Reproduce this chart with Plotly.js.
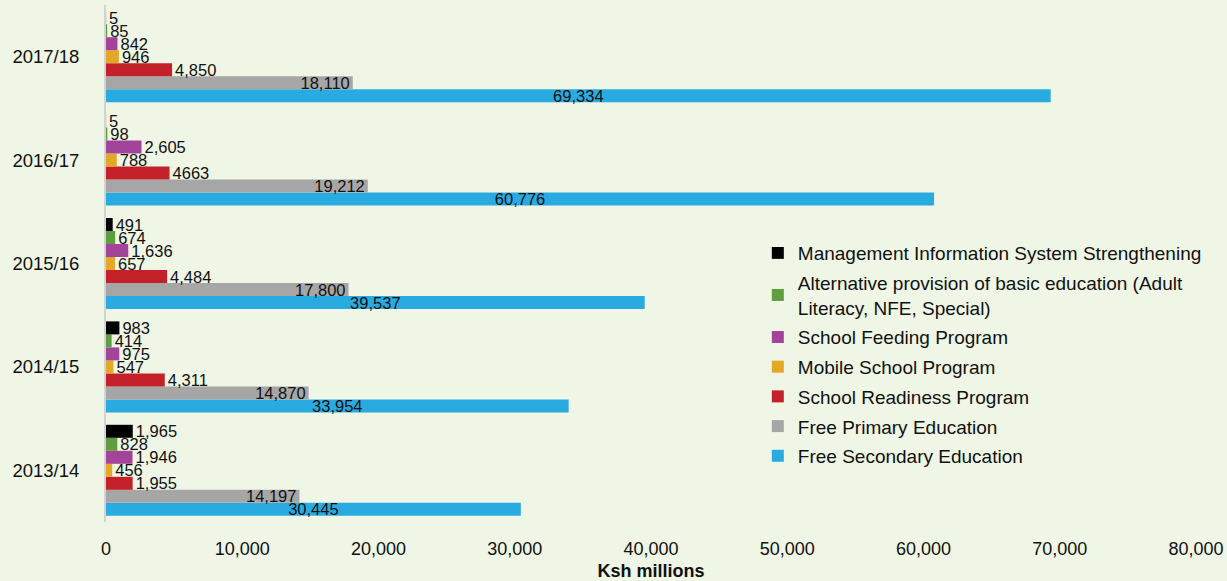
<!DOCTYPE html>
<html>
<head>
<meta charset="utf-8">
<script src="https://cdn.plot.ly/plotly-3.0.1.min.js"></script>
<style>html,body{margin:0;padding:0;background:#eff6e5;}#chart{width:1227px;height:581px;}</style>
</head>
<body>
<div id="chart"></div>
<script>
// Categories (bottom to top as drawn by Plotly)
const years = ['2013/14', '2014/15', '2015/16', '2016/17', '2017/18'];

// Series values, Ksh millions, in the same order as years
const freeSecondary = [30445, 33954, 39537, 60776, 69334];
const freePrimary   = [14197, 14870, 17800, 19212, 18110];
const schoolReadiness = [1955, 4311, 4484, 4663, 4850];
const mobileSchool  = [456, 547, 657, 788, 946];
const schoolFeeding = [1946, 975, 1636, 2605, 842];
const altProvision  = [828, 414, 674, 98, 85];
const misStrength   = [1965, 983, 491, 5, 5];

// Label as printed in the source (one value printed without a thousands separator)
const readinessLabels = ['1,955', '4,311', '4,484', '4663', '4,850'];

const seriesNames = [
  'Free Secondary Education',
  'Free Primary Education',
  'School Readiness Program',
  'Mobile School Program',
  'School Feeding Program',
  'Alternative provision of basic education (Adult<br>Literacy, NFE, Special)',
  'Management Information System Strengthening'
];
const seriesColors = ['#29abe2', '#a6a6a6', '#c4202a', '#e3a827', '#a3449a', '#5f9e3f', '#000000'];

const fmt = v => v.toLocaleString('en-US');

const seriesValues = [freeSecondary, freePrimary, schoolReadiness, mobileSchool, schoolFeeding, altProvision, misStrength];
const seriesText = [
  freeSecondary.map(fmt),
  freePrimary.map(fmt),
  readinessLabels,
  mobileSchool.map(fmt),
  schoolFeeding.map(fmt),
  altProvision.map(fmt),
  misStrength.map(fmt)
];
const textPos = ['inside', 'inside', 'outside', 'outside', 'outside', 'outside', 'outside'];
const textAnchor = ['middle', 'end', 'end', 'end', 'end', 'end', 'end'];

const traces = seriesValues.map((vals, i) => ({
  type: 'bar',
  orientation: 'h',
  y: years,
  x: vals,
  name: seriesNames[i],
  legendgroup: 'g' + i,
  legendrank: 100 - i,
  marker: {color: seriesColors[i]},
  text: seriesText[i],
  textposition: textPos[i],
  insidetextanchor: textAnchor[i],
  constraintext: 'none',
  cliponaxis: false,
  textfont: {family: 'Liberation Sans, Arial, sans-serif', size: 16.5, color: '#111111'},
  hoverinfo: 'x+name'
}));

const layout = {
  width: 1227,
  height: 581,
  paper_bgcolor: '#eff6e5',
  plot_bgcolor: '#eff6e5',
  font: {family: 'Liberation Sans, Arial, sans-serif', color: '#111111'},
  margin: {l: 106, r: 31, t: 5, b: 59},
  barmode: 'group',
  bargap: 0.12,
  bargroupgap: 0,
  showlegend: true,
  legend: {
    x: 0.598, y: 0.557, xanchor: 'left', yanchor: 'top',
    traceorder: 'grouped',
    tracegroupgap: 2,
    bgcolor: 'rgba(0,0,0,0)',
    font: {size: 19, color: '#111111'}
  },
  xaxis: {
    range: [0, 80000],
    dtick: 10000,
    tickformat: ',d',
    showgrid: false,
    zeroline: false,
    showline: false,
    ticks: '',
    ticklabelstandoff: 14,
    tickfont: {size: 18},
    title: {text: '<b>Ksh millions</b>', font: {size: 18}, standoff: 6}
  },
  yaxis: {
    showgrid: false,
    zeroline: false,
    showline: true,
    linecolor: '#d3d3d3',
    linewidth: 2,
    ticks: '',
    ticklabelstandoff: 21,
    tickfont: {size: 18.5}
  }
};

Plotly.newPlot('chart', traces, layout, {displayModeBar: false, staticPlot: true});
</script>
</body>
</html>
